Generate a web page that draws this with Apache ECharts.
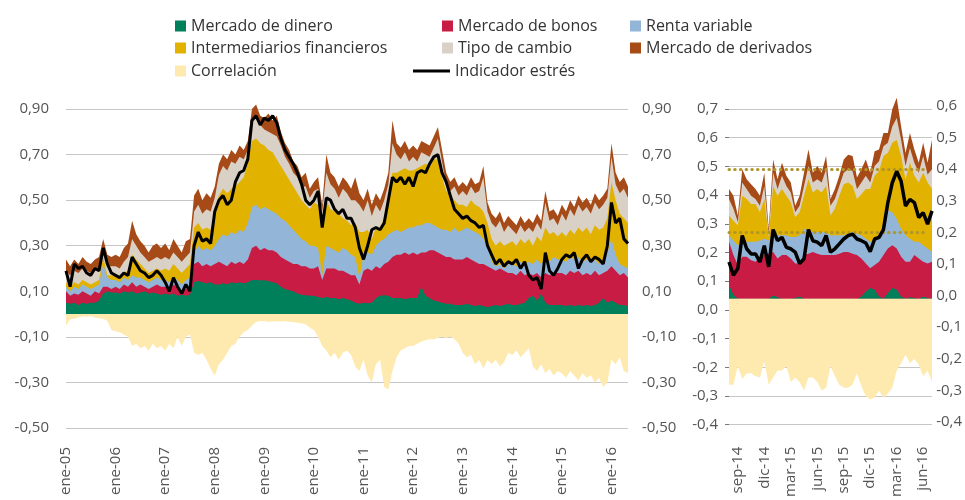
<!DOCTYPE html>
<html>
<head>
<meta charset="utf-8">
<script src="https://cdn.jsdelivr.net/npm/echarts@6/dist/echarts.min.js"></script>
<style>
html, body { margin: 0; padding: 0; background: #fff; }
#container { width: 965px; height: 500px; }
</style>
</head>
<body>
<div id="container"></div>
<script>
var container = document.getElementById('container');
var charts = echarts.init(container, null, { renderer: 'canvas' });

// meses en espanol para las etiquetas del eje
var meses = ['ene', 'feb', 'mar', 'abr', 'may', 'jun', 'jul', 'ago', 'sep', 'oct', 'nov', 'dic'];
var etiquetasDer = ['sep-14', 'dic-14', 'mar-15', 'jun-15', 'sep-15', 'dic-15', 'mar-16', 'jun-16'];

/*
 * Panel izquierdo: datos mensuales ene-05 .. may-16.
 * Las bandas se guardan como el borde superior de cada color (nivel acumulado)
 * y se dibujan superpuestas.
 */
var izqDinero = [
  .05, .045, .05, .04, .05, .045, .05, .05, .06, .09, .10, .095,
  .095, .09, .10, .095, .10, .09, .095, .10, .09, .095, .09, .085,
  .09, .085, .09, .08, .085, .08, .085, .14, .145, .14, .135, .14,
  .13, .13, .135, .13, .14, .135, .14, .135, .14, .15, .15, .148,
  .148, .145, .14, .135, .12, .11, .105, .10, .09, .085, .083, .08,
  .08, .075, .07, .075, .07, .07, .065, .07, .065, .06, .05, .045,
  .05, .047, .05, .07, .08, .083, .08, .07, .07, .07, .065, .07,
  .07, .07, .12, .08, .07, .06, .055, .05, .045, .045, .04, .04,
  .04, .045, .04, .035, .04, .035, .03, .035, .04, .035, .04, .045,
  .04, .04, .045, .05, .07, .08, .06, .09, .05, .04, .04, .04,
  .04, .035, .04, .035, .04, .035, .04, .035, .04, .05, .07, .05,
  .06, .05, .04, .04, .035
];
var izqBonos = [
  .10, .08, .09, .085, .10, .09, .08, .10, .09, .12, .12, .11,
  .12, .11, .13, .12, .14, .12, .13, .12, .11, .12, .13, .12,
  .12, .11, .13, .12, .10, .11, .12, .22, .23, .21, .22, .21,
  .22, .23, .22, .21, .23, .22, .23, .22, .24, .29, .30, .28,
  .29, .28, .28, .27, .25, .24, .23, .22, .22, .21, .21, .20,
  .20, .21, .15, .20, .20, .20, .19, .19, .18, .17, .17, .13,
  .19, .20, .19, .21, .20, .22, .23, .25, .26, .26, .27, .26,
  .27, .26, .27, .27, .28, .28, .27, .26, .25, .25, .24, .24,
  .24, .25, .24, .23, .22, .22, .21, .20, .19, .20, .19, .18,
  .18, .17, .19, .17, .18, .17, .18, .16, .18, .17, .18, .18,
  .18, .17, .19, .18, .19, .17, .18, .17, .19, .17, .18, .19,
  .21, .19, .17, .18, .16
];
var izqRenta = [
  .12, .10, .12, .11, .13, .12, .11, .12, .13, .22, .16, .15,
  .15, .14, .16, .15, .17, .16, .16, .15, .14, .15, .16, .15,
  .15, .14, .16, .15, .13, .15, .16, .27, .30, .28, .29, .28,
  .30, .33, .35, .34, .36, .35, .37, .36, .40, .47, .48, .46,
  .47, .46, .45, .44, .42, .41, .39, .37, .35, .33, .32, .30,
  .30, .29, .17, .30, .29, .28, .27, .29, .28, .26, .25, .16,
  .26, .27, .26, .30, .32, .33, .35, .36, .37, .36, .37, .38,
  .38, .39, .39, .40, .40, .39, .38, .37, .37, .36, .38, .36,
  .37, .38, .37, .36, .35, .33, .30, .23, .21, .22, .20, .22,
  .22, .21, .23, .22, .23, .22, .24, .22, .24, .23, .25, .24,
  .24, .23, .25, .24, .25, .23, .24, .23, .24, .22, .23, .27,
  .33, .26, .22, .21, .20
];
var izqIntermediarios = [
  .14, .12, .14, .13, .15, .14, .13, .14, .15, .25, .17, .17,
  .17, .16, .18, .19, .26, .24, .22, .20, .18, .19, .20, .19,
  .20, .19, .22, .20, .18, .20, .22, .38, .40, .37, .38, .37,
  .45, .52, .55, .53, .55, .56, .58, .60, .66, .76, .77, .75,
  .74, .72, .71, .68, .65, .62, .59, .56, .53, .50, .48, .46,
  .49, .48, .42, .50, .46, .45, .44, .42, .41, .39, .40, .36,
  .36, .37, .33, .38, .38, .42, .52, .62, .62, .63, .64, .63,
  .63, .64, .65, .66, .65, .68, .68, .60, .54, .52, .50, .48,
  .48, .47, .50, .48, .47, .45, .40, .33, .30, .32, .30, .31,
  .32, .30, .33, .31, .33, .30, .34, .32, .38, .35, .36, .34,
  .36, .34, .37, .35, .38, .36, .38, .35, .39, .37, .38, .42,
  .58, .50, .44, .42, .40
];
var izqTipo = [
  .19, .17, .19, .18, .20, .19, .18, .19, .20, .29, .21, .21,
  .21, .20, .23, .25, .33, .30, .27, .25, .23, .24, .25, .24,
  .25, .24, .27, .25, .23, .25, .27, .45, .48, .44, .46, .45,
  .51, .61, .65, .63, .67, .66, .69, .68, .72, .85, .87, .83,
  .81, .80, .79, .78, .74, .69, .66, .62, .60, .56, .56, .51,
  .54, .55, .45, .62, .57, .55, .51, .55, .53, .50, .50, .48,
  .45, .50, .43, .48, .45, .50, .57, .75, .70, .68, .71, .67,
  .69, .67, .71, .70, .69, .73, .77, .67, .57, .54, .56, .52,
  .54, .52, .56, .53, .54, .60, .45, .40, .38, .41, .36, .39,
  .37, .35, .39, .36, .38, .36, .40, .37, .49, .41, .42, .39,
  .44, .41, .46, .43, .48, .45, .47, .44, .49, .46, .48, .51,
  .69, .57, .53, .55, .51
];
var izqDerivados = [
  .24, .21, .24, .22, .25, .23, .22, .24, .25, .33, .26, .25,
  .26, .25, .29, .31, .41, .35, .32, .30, .27, .30, .31, .29,
  .31, .28, .33, .30, .27, .32, .33, .52, .55, .50, .53, .51,
  .56, .66, .70, .68, .72, .70, .74, .72, .76, .90, .92, .87,
  .86, .88, .85, .87, .80, .75, .72, .67, .65, .60, .62, .55,
  .58, .60, .48, .70, .62, .60, .56, .60, .58, .55, .60, .53,
  .50, .55, .48, .53, .50, .55, .62, .85, .75, .73, .76, .72,
  .74, .72, .76, .75, .74, .78, .82, .72, .62, .58, .60, .56,
  .58, .56, .60, .57, .58, .65, .49, .44, .42, .45, .40, .43,
  .41, .39, .43, .40, .42, .40, .44, .41, .54, .45, .46, .43,
  .48, .45, .50, .47, .52, .49, .51, .48, .53, .50, .52, .55,
  .75, .62, .58, .60, .56
];
var izqCorrelacion = [
  -.05, -.024, -.02, -.015, -.01, -.012, -.008, -.015, -.018, -.02, -.03, -.07,
  -.075, -.08, -.09, -.10, -.14, -.13, -.15, -.14, -.16, -.13, -.15, -.14,
  -.16, -.13, -.15, -.10, -.14, -.10, -.09, -.17, -.18, -.17, -.20, -.24,
  -.27, -.22, -.20, -.17, -.14, -.13, -.10, -.08, -.07, -.05, -.035, -.03,
  -.032, -.034, -.033, -.032, -.033, -.032, -.034, -.035, -.038, -.04, -.045, -.06,
  -.07, -.10, -.14, -.16, -.19, -.17, -.20, -.17, -.16, -.18, -.23, -.25,
  -.20, -.27, -.30, -.22, -.20, -.32, -.33, -.25, -.19, -.16, -.15, -.14,
  -.14, -.13, -.12, -.115, -.11, -.11, -.105, -.10, -.105, -.10, -.11, -.13,
  -.17, -.19, -.18, -.22, -.20, -.24, -.20, -.22, -.20, -.23, -.21, -.17,
  -.18, -.16, -.19, -.17, -.15, -.23, -.25, -.22, -.26, -.24, -.27, -.25,
  -.26, -.28, -.25, -.27, -.29, -.26, -.28, -.27, -.30, -.28, -.32, -.30,
  -.20, -.22, -.19, -.25, -.26
];
var izqIndicador = [
  .19, .12, .22, .20, .21, .18, .17, .20, .19, .29, .22, .18,
  .17, .16, .18, .17, .25, .22, .19, .18, .16, .17, .19, .17,
  .14, .10, .16, .12, .09, .13, .10, .30, .36, .32, .33, .31,
  .45, .50, .52, .48, .50, .58, .62, .63, .68, .85, .87, .83,
  .86, .85, .87, .84, .77, .72, .69, .66, .62, .57, .50, .48,
  .50, .54, .38, .51, .50, .46, .44, .46, .42, .42, .38, .29,
  .24, .30, .37, .38, .37, .40, .50, .60, .58, .60, .57, .60,
  .56, .62, .63, .62, .66, .69, .70, .62, .58, .52, .46, .44,
  .42, .43, .41, .40, .38, .39, .30, .26, .22, .24, .21, .23,
  .22, .24, .20, .23, .17, .15, .16, .11, .27, .19, .17, .20,
  .24, .26, .25, .27, .20, .24, .26, .23, .25, .24, .22, .30,
  .49, .40, .42, .33, .31
];

/*
 * Panel derecho: datos quincenales ago-14 .. jul-16 (mismo criterio de niveles acumulados).
 */
var derDinero = [.048, .014, 0, 0, 0, 0, 0, 0, 0, 0, .011, .005, 0, 0, 0, .002, .008, 0, 0, 0, 0, 0, 0, 0,
  0, 0, 0, 0, 0, 0, .008, .025, .037, .031, .008, 0, .02, .037, .031, .008, 0, .005, .002, 0, .008, .002, 0];
var derBonos = [.198, .152, .117, .146, .146, .134, .129, .146, .152, .157, .163, .14, .152, .152, .14, .123, .123, .152,
  .157, .163, .157, .152, .152, .152, .152, .157, .163, .163, .157, .152, .14, .123, .106, .117, .129, .152, .175,
  .186, .175, .146, .129, .129, .152, .14, .129, .123, .129];
var derRenta = [.221, .203, .186, .192, .198, .198, .198, .203, .209, .203, .232, .221, .221, .221, .215, .215, .221, .244,
  .238, .232, .232, .232, .232, .221, .221, .221, .221, .226, .232, .226, .221, .209, .198, .203, .209, .244, .307,
  .301, .278, .244, .221, .209, .198, .198, .186, .175, .163];
var derIntermediarios = [.29, .272, .255, .359, .347, .33, .33, .301, .347, .215, .393, .359, .382, .359, .336, .284, .301,
  .359, .416, .37, .382, .37, .393, .29, .313, .359, .399, .405, .393, .347, .364, .382, .382, .428, .445, .497, .508,
  .543, .554, .497, .416, .474, .428, .405, .439, .405, .382];
var derTipo = [.347, .313, .267, .405, .382, .359, .347, .324, .393, .226, .439, .382, .428, .393, .37, .301, .324, .393,
  .462, .405, .416, .405, .451, .324, .347, .393, .439, .451, .445, .382, .405, .428, .405, .462, .479, .531, .543,
  .60, .63, .554, .462, .525, .474, .439, .497, .433, .451];
var derDerivados = [.382, .359, .29, .451, .416, .399, .382, .359, .439, .244, .485, .416, .474, .428, .405, .324, .359,
  .439, .52, .439, .462, .439, .497, .347, .382, .428, .485, .502, .497, .422, .451, .485, .439, .514, .52, .577,
  .577, .66, .70, .60, .508, .577, .52, .474, .543, .474, .554];
var derCorrelacion = [-.30, -.30, -.235, -.28, -.26, -.26, -.27, -.275, -.22, -.30, -.275, -.25, -.25, -.235, -.29, -.275,
  -.29, -.32, -.275, -.275, -.29, -.32, -.31, -.235, -.27, -.30, -.31, -.31, -.30, -.26, -.305, -.34, -.35, -.345,
  -.32, -.345, -.33, -.31, -.25, -.225, -.195, -.225, -.21, -.23, -.27, -.25, -.29];
var derIndicador = [.167, .121, .144, .259, .213, .195, .195, .167, .224, .15, .28, .241, .253, .218, .213, .201, .161,
  .178, .28, .241, .236, .224, .259, .201, .213, .23, .247, .259, .264, .247, .241, .233, .203, .247, .253, .28,
  .374, .443, .483, .448, .362, .385, .374, .322, .339, .299, .345];
var derUmbrales = [0.4, 0.2];

// categorias del eje x
var fechasIzq = [];
for (var a = 5; a <= 16; a++) {
  for (var mIdx = 0; mIdx < 12; mIdx++) {
    if (a === 16 && mIdx > 4) break;
    fechasIzq.push(meses[mIdx] + '-' + (a < 10 ? '0' + a : a));
  }
}
var fechasDer = [];
for (var k = 7; k < 7 + 23; k++) {
  var mes = meses[k % 12] + '-' + (14 + Math.floor(k / 12));
  fechasDer.push(mes);
  fechasDer.push('15 ' + mes);
}
fechasDer.push('jul-16');

var colores = {
  'Mercado de dinero': '#00805a',
  'Mercado de bonos': '#c81c45',
  'Renta variable': '#93b5d8',
  'Intermediarios financieros': '#e1b200',
  'Tipo de cambio': '#d9d0c6',
  'Mercado de derivados': '#a64a17',
  'Correlación': '#fee9ae'
};
var fuente = '"Open Sans", "Noto Sans", sans-serif';
var gris = '#555';

function coma(dec) {
  return function (v) {
    if (Math.abs(v) < 1e-9) v = 0;
    return v.toFixed(dec).replace('.', ',');
  };
}

function banda(nombre, datos, xi, yi) {
  return {
    name: nombre, type: 'line', xAxisIndex: xi, yAxisIndex: yi, data: datos,
    symbol: 'none', silent: true, clip: false,
    lineStyle: { width: 0 },
    itemStyle: { color: colores[nombre] },
    areaStyle: { color: colores[nombre], opacity: 1 }
  };
}

function indicador(datos, xi, yi, ancho) {
  return {
    name: 'Indicador estrés', type: 'line', xAxisIndex: xi, yAxisIndex: yi, data: datos,
    symbol: 'none', silent: true, clip: false, z: 5,
    lineStyle: { color: '#000', width: ancho },
    itemStyle: { color: '#000' }
  };
}

var leyendas = [
  ['Mercado de dinero', 175, 18], ['Mercado de bonos', 442, 18], ['Renta variable', 630, 18],
  ['Intermediarios financieros', 175, 40], ['Tipo de cambio', 442, 40], ['Mercado de derivados', 630, 40],
  ['Correlación', 175, 63]
];
var legend = leyendas.map(function (l) {
  return {
    data: [l[0]], left: l[1], top: l[2], padding: 0, icon: 'rect', itemWidth: 11, itemHeight: 11,
    selectedMode: false, textStyle: { fontSize: 16, color: '#333', fontFamily: fuente }
  };
});
legend.push({
  data: ['Indicador estrés'], left: 413, top: 63, padding: 0, icon: 'rect', itemWidth: 37, itemHeight: 3,
  selectedMode: false, textStyle: { fontSize: 16, color: '#333', fontFamily: fuente }
});

var etiquetaY = { color: gris, fontSize: 15, fontFamily: fuente };
var rejilla = { lineStyle: { color: '#c6c6c6', width: 1 } };

var option = {
  animation: false,
  backgroundColor: '#fff',
  legend: legend,
  grid: [
    { left: 66, right: 337, top: 109, bottom: 72 },
    { left: 729, right: 33, top: 109, bottom: 72 },
    { left: 729, right: 33, top: 106, bottom: 78 }
  ],
  xAxis: [
    {
      type: 'category', gridIndex: 0, data: fechasIzq, boundaryGap: false,
      axisLine: { show: false }, axisTick: { show: false }, splitLine: { show: false },
      axisLabel: {
        rotate: 90, margin: 19, color: gris, fontSize: 15, fontFamily: fuente,
        interval: function (i, v) { return v.indexOf('ene') === 0; }
      }
    },
    {
      type: 'category', gridIndex: 1, data: fechasDer, boundaryGap: false,
      axisLine: { show: false }, axisTick: { show: false }, splitLine: { show: false },
      axisLabel: {
        rotate: 90, margin: 22, color: gris, fontSize: 15, fontFamily: fuente,
        interval: function (i, v) { return etiquetasDer.indexOf(v) >= 0; }
      }
    },
    { type: 'category', gridIndex: 2, data: fechasDer, boundaryGap: false, show: false }
  ],
  yAxis: [
    {
      type: 'value', gridIndex: 0, position: 'left', min: -0.5, max: 0.9, interval: 0.2,
      axisLine: { show: false }, axisTick: { show: false },
      axisLabel: Object.assign({ margin: 17, formatter: coma(2) }, etiquetaY),
      splitLine: rejilla
    },
    {
      type: 'value', gridIndex: 0, position: 'right', min: -0.5, max: 0.9, interval: 0.2,
      axisLine: { show: false }, axisTick: { show: false },
      axisLabel: Object.assign({ margin: 14, formatter: coma(2) }, etiquetaY),
      splitLine: { show: false }
    },
    {
      type: 'value', gridIndex: 1, position: 'left', min: -0.4, max: 0.7, interval: 0.1,
      axisLine: { show: false },
      axisTick: { show: true, length: 4, lineStyle: { color: '#777' } },
      axisLabel: Object.assign({ margin: 11, formatter: coma(1) }, etiquetaY),
      splitLine: rejilla
    },
    {
      // eje auxiliar (sin mostrar) de las bandas del panel derecho
      type: 'value', gridIndex: 1, position: 'left', min: -0.439, max: 0.661, show: false
    },
    {
      type: 'value', gridIndex: 2, position: 'right', min: -0.4, max: 0.6, interval: 0.1,
      axisLine: { show: false }, axisTick: { show: false },
      axisLabel: Object.assign({ margin: 8, formatter: coma(1) }, etiquetaY),
      splitLine: { show: false }
    }
  ],
  series: [
    banda('Mercado de derivados', izqDerivados, 0, 0),
    banda('Tipo de cambio', izqTipo, 0, 0),
    banda('Intermediarios financieros', izqIntermediarios, 0, 0),
    banda('Renta variable', izqRenta, 0, 0),
    banda('Mercado de bonos', izqBonos, 0, 0),
    banda('Mercado de dinero', izqDinero, 0, 0),
    banda('Correlación', izqCorrelacion, 0, 0),
    indicador(izqIndicador, 0, 0, 3),

    banda('Mercado de derivados', derDerivados, 1, 3),
    banda('Tipo de cambio', derTipo, 1, 3),
    banda('Intermediarios financieros', derIntermediarios, 1, 3),
    banda('Renta variable', derRenta, 1, 3),
    banda('Mercado de bonos', derBonos, 1, 3),
    banda('Mercado de dinero', derDinero, 1, 3),
    banda('Correlación', derCorrelacion, 1, 3),
    indicador(derIndicador, 1, 2, 3.5),
    {
      name: 'umbrales', type: 'line', xAxisIndex: 2, yAxisIndex: 4, data: [], silent: true, z: 6,
      markLine: {
        silent: true, symbol: ['none', 'none'], label: { show: false },
        lineStyle: { color: '#b0962a', width: 3, type: [0.5, 5.2], cap: 'round' },
        data: derUmbrales.map(function (u) { return { yAxis: u }; })
      }
    }
  ]
};

charts.setOption(option, true);
</script>
</body>
</html>
